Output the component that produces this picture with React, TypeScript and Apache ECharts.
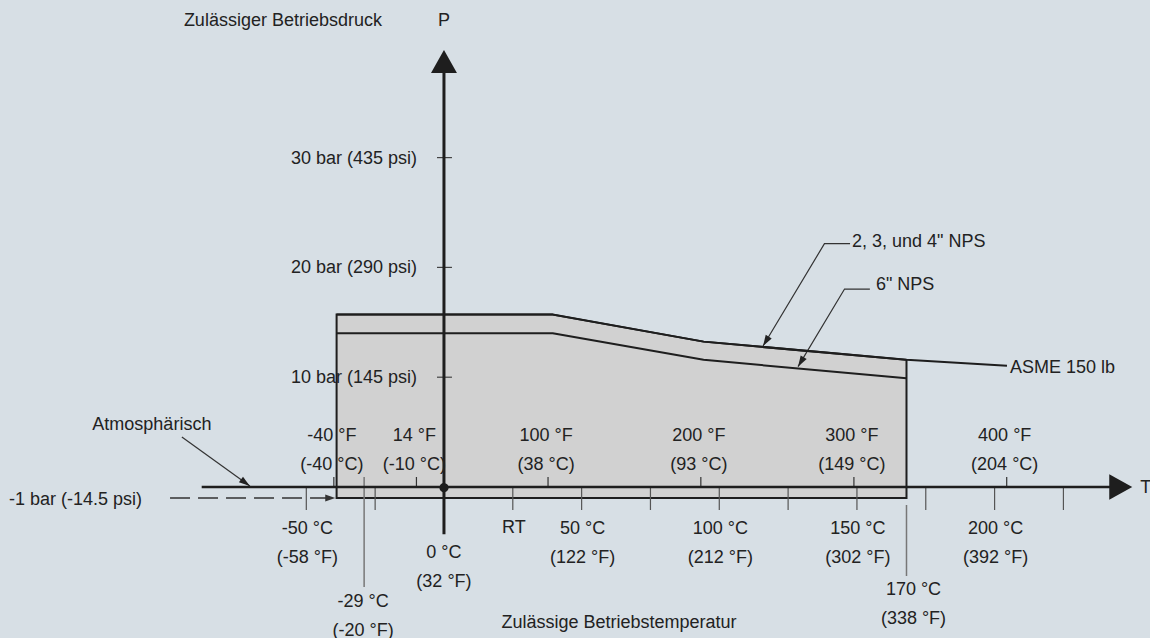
import React, { useEffect, useRef } from "react";
import * as echarts from "echarts";

// ---- data (°C on x, bar on y) ----
const regionOutline: number[][] = [[-39, -1], [-39, 15.7], [39.5, 15.7], [94.3, 13.24], [168, 11.58], [168, -1]];
const asme150Line: number[][] = [[-39, 15.7], [39.5, 15.7], [94.3, 13.24], [168, 11.58], [204.5, 11.05]];
const nps6Line: number[][] = [[-39, 14.0], [39.5, 14.0], [94.3, 11.58], [168, 9.9]];

const celsiusTicks = [-50, -25, 25, 50, 75, 100, 125, 150, 175, 200, 225];
const fahrenheitTicks = [-40, -10, 37.8, 93.3, 148.9, 204.4];
const fahrenheitLabels = ["-40 °F\n(-40 °C)", "14 °F\n(-10 °C)", "100 °F\n(38 °C)", "200 °F\n(93 °C)", "300 °F\n(149 °C)", "400 °F\n(204 °C)"];
const celsiusLabelValues = [-50, 25, 50, 100, 150, 200];
const celsiusLabels = ["-50 °C\n(-58 °F)", "RT", "50 °C\n(122 °F)", "100 °C\n(212 °F)", "150 °C\n(302 °F)", "200 °C\n(392 °F)"];
const pressureTicks = [10, 20, 30];
const pressureLabels = ["10 bar (145 psi)", "20 bar (290 psi)", "30 bar (435 psi)"];

const minTempMarker = -29;
const minTempLabel = "-29 °C\n(-20 °F)";
const maxTempMarker = 168;
const maxTempLabel = "170 °C\n(338 °F)";
const zeroLabel = "0 °C\n(32 °F)";

const tAxisRange = [-88, 250];
const pAxisRange = [-4.3, 39.8];
const atmosphericLevel = -1;
const atmosphericDashRange = [-99.5, -39.5];
const atmLeader: number[][] = [[-95.2, 4.55], [-70.5, 0.1]];
const npsLeader: number[][] = [[147.5, 22.16], [138.2, 22.16], [115.9, 12.84]];
const nps6Leader: number[][] = [[154.7, 18.03], [145.5, 18.03], [128.6, 10.96]];

const FONT = "18px 'Liberation Sans', Arial, sans-serif";
const INK = "#1e1e1e";
const TXT = "#222222";

function txt(x: number, y: number, text: string, align: string, vAlign = "middle") {
  return {
    type: "text",
    x,
    y,
    style: {
      text,
      font: FONT,
      fill: TXT,
      align,
      verticalAlign: vAlign,
      textAlign: align,
      textVerticalAlign: vAlign,
      lineHeight: 29,
    },
    silent: true,
  };
}

function arrowHead(tip: number[], from: number[], len: number, half: number, color: string) {
  const dx = tip[0] - from[0];
  const dy = tip[1] - from[1];
  const d = Math.sqrt(dx * dx + dy * dy) || 1;
  const ux = dx / d, uy = dy / d;
  const bx = tip[0] - ux * len, by = tip[1] - uy * len;
  return {
    type: "polygon",
    shape: { points: [tip, [bx - uy * half, by + ux * half], [bx + uy * half, by - ux * half]] },
    style: { fill: color },
    silent: true,
  };
}

export default function App() {
  const ref = useRef<HTMLDivElement>(null);

  useEffect(() => {
    document.body.style.margin = "0";
    const chart = echarts.init(ref.current!, undefined, { renderer: "svg" });

    const option: any = {
      animation: false,
      backgroundColor: "#d7dfe5",
      grid: { left: 31, right: 17.75, top: 47.8, bottom: 96.1 },
      xAxis: { type: "value", min: -150, max: 250, show: false },
      yAxis: { type: "value", min: -5, max: 40, show: false },
      series: [
        {
          type: "custom",
          name: "Bereich",
          z: 1,
          clip: false,
          data: [[0, 0]],
          renderItem: (_p: any, api: any) => ({
            type: "polygon",
            shape: { points: regionOutline.map((p) => api.coord(p)) },
            style: { fill: "#d1d1d1", stroke: INK, lineWidth: 2 },
          }),
        },
        {
          type: "custom",
          name: "Skala",
          z: 2,
          clip: false,
          data: [[0, 0]],
          renderItem: (_p: any, api: any) => {
            const ch: any[] = [];
            celsiusTicks.forEach((v) => {
              const p = api.coord([v, 0]);
              ch.push({ type: "line", shape: { x1: p[0], y1: p[1], x2: p[0], y2: p[1] + 23 }, style: { stroke: "#555", lineWidth: 1.2 } });
            });
            fahrenheitTicks.forEach((v) => {
              const p = api.coord([v, 0]);
              ch.push({ type: "line", shape: { x1: p[0], y1: p[1] - 10, x2: p[0], y2: p[1] }, style: { stroke: "#333", lineWidth: 1.2 } });
            });
            pressureTicks.forEach((v) => {
              const p = api.coord([0, v]);
              ch.push({ type: "line", shape: { x1: p[0] - 7, y1: p[1], x2: p[0] + 8, y2: p[1] }, style: { stroke: "#444", lineWidth: 1.2 } });
            });
            const m1 = api.coord([minTempMarker, 0]);
            ch.push({ type: "line", shape: { x1: m1[0], y1: m1[1] - 10, x2: m1[0], y2: m1[1] + 100 }, style: { stroke: "#777", lineWidth: 1.5 } });
            const m2 = api.coord([maxTempMarker, 0]);
            ch.push({ type: "line", shape: { x1: m2[0], y1: m2[1] + 18, x2: m2[0], y2: m2[1] + 89 }, style: { stroke: "#777", lineWidth: 1.5 } });
            // dashed atmospheric line
            const d1 = api.coord([atmosphericDashRange[0], atmosphericLevel]);
            const d2 = api.coord([atmosphericDashRange[1], atmosphericLevel]);
            ch.push({ type: "line", shape: { x1: d1[0], y1: d1[1], x2: d2[0] - 8, y2: d2[1] }, style: { stroke: "#333", lineWidth: 1.3, lineDash: [20, 8] } });
            ch.push(arrowHead(d2, d1, 10, 3.5, "#333"));
            // leaders
            [atmLeader, npsLeader, nps6Leader].forEach((ld) => {
              const pts = ld.map((p) => api.coord(p));
              ch.push({ type: "polyline", shape: { points: pts }, style: { stroke: "#333", lineWidth: 1.2, fill: "none" } });
              ch.push(arrowHead(pts[pts.length - 1], pts[pts.length - 2], 11, 3.5, "#222"));
            });
            return { type: "group", children: ch };
          },
        },
        {
          type: "line",
          name: "2, 3, und 4\" NPS",
          z: 3,
          clip: false,
          symbol: "none",
          silent: true,
          data: asme150Line,
          lineStyle: { color: INK, width: 2 },
        },
        {
          type: "line",
          name: "6\" NPS",
          z: 3,
          clip: false,
          symbol: "none",
          silent: true,
          data: nps6Line,
          lineStyle: { color: INK, width: 2 },
        },
        {
          type: "custom",
          name: "Achsen",
          z: 4,
          clip: false,
          data: [[0, 0]],
          renderItem: (_p: any, api: any) => {
            const ch: any[] = [];
            const t1 = api.coord([tAxisRange[0], 0]);
            const t2 = api.coord([tAxisRange[1], 0]);
            ch.push({ type: "line", shape: { x1: t1[0], y1: t1[1], x2: t2[0] - 20, y2: t2[1] }, style: { stroke: INK, lineWidth: 2.6 } });
            ch.push({ type: "polygon", shape: { points: [t2, [t2[0] - 23, t2[1] - 12.7], [t2[0] - 23, t2[1] + 12.7]] }, style: { fill: INK } });
            const p1 = api.coord([0, pAxisRange[0]]);
            const p2 = api.coord([0, pAxisRange[1]]);
            ch.push({ type: "line", shape: { x1: p1[0], y1: p1[1], x2: p2[0], y2: p2[1] + 20 }, style: { stroke: INK, lineWidth: 3 } });
            ch.push({ type: "polygon", shape: { points: [p2, [p2[0] - 13, p2[1] + 23], [p2[0] + 13, p2[1] + 23]] }, style: { fill: INK } });
            const o = api.coord([0, 0]);
            ch.push({ type: "circle", shape: { cx: o[0], cy: o[1], r: 4.6 }, style: { fill: INK } });
            return { type: "group", children: ch };
          },
        },
        {
          type: "custom",
          name: "Beschriftung",
          z: 5,
          clip: false,
          data: [[0, 0]],
          renderItem: (_p: any, api: any) => {
            const ch: any[] = [];
            fahrenheitTicks.forEach((v, i) => {
              const p = api.coord([v, 0]);
              ch.push(txt(p[0] - 2, p[1] - 38, fahrenheitLabels[i], "center"));
            });
            celsiusLabelValues.forEach((v, i) => {
              const p = api.coord([v, 0]);
              const lab = celsiusLabels[i];
              const off = lab.indexOf("\n") >= 0 ? 55 : 40;
              ch.push(txt(p[0] + 1, p[1] + off, lab, "center"));
            });
            pressureTicks.forEach((v, i) => {
              const p = api.coord([0, v]);
              ch.push(txt(p[0] - 27, p[1], pressureLabels[i], "right"));
            });
            const z0 = api.coord([0, 0]);
            ch.push(txt(z0[0], z0[1] + 79, zeroLabel, "center"));
            const m1 = api.coord([minTempMarker, 0]);
            ch.push(txt(m1[0] - 1, m1[1] + 128, minTempLabel, "center"));
            const m2 = api.coord([maxTempMarker, 0]);
            ch.push(txt(m2[0] + 7, m2[1] + 116, maxTempLabel, "center"));
            // axis titles
            const pTop = api.coord([0, pAxisRange[1]]);
            ch.push(txt(pTop[0], pTop[1] - 30, "P", "center"));
            ch.push(txt(pTop[0] - 62, pTop[1] - 30, "Zulässiger Betriebsdruck", "right"));
            const tEnd = api.coord([tAxisRange[1], 0]);
            ch.push(txt(tEnd[0] + 8, tEnd[1], "T", "left"));
            ch.push(txt(619, z0[1] + 135, "Zulässige Betriebstemperatur", "center"));
            // annotations
            const a0 = api.coord(atmLeader[0]);
            ch.push(txt(a0[0] - 30, a0[1] - 13, "Atmosphärisch", "center"));
            const d1 = api.coord([atmosphericDashRange[0], atmosphericLevel]);
            ch.push(txt(d1[0] - 28, d1[1] + 1, "-1 bar (-14.5 psi)", "right"));
            const n0 = api.coord(npsLeader[0]);
            ch.push(txt(n0[0] + 2, n0[1] - 3, "2, 3, und 4\" NPS", "left"));
            const n6 = api.coord(nps6Leader[0]);
            ch.push(txt(n6[0] + 6, n6[1] - 5, "6\" NPS", "left"));
            const aEnd = api.coord(asme150Line[asme150Line.length - 1]);
            ch.push(txt(aEnd[0] + 3, aEnd[1] + 1, "ASME 150 lb", "left"));
            return { type: "group", children: ch };
          },
        },
      ],
    };

    chart.setOption(option);
    return () => chart.dispose();
  }, []);

  return <div ref={ref} style={{ width: 1150, height: 638 }} />;
}
